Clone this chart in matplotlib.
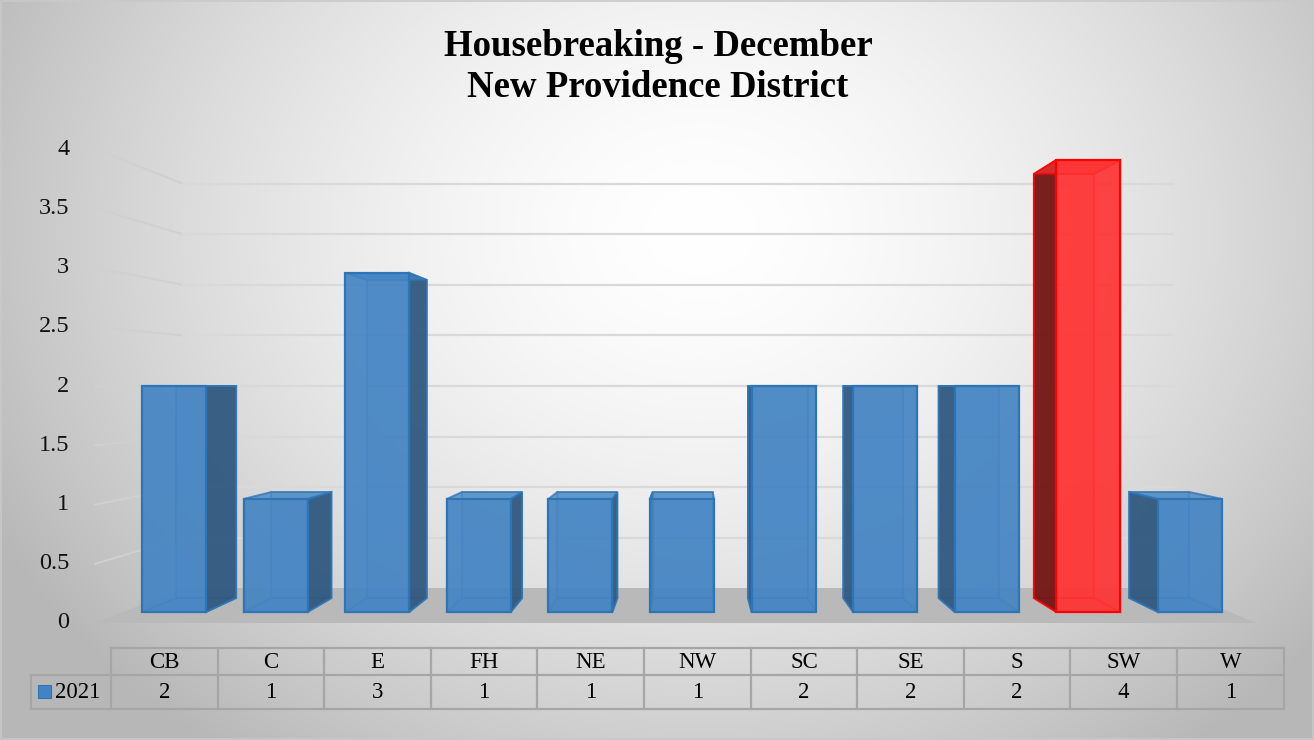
import numpy as np
import matplotlib.pyplot as plt
from matplotlib.patches import Polygon, Rectangle

# -------------------------------------
# data
# -------------------------------------
districts = ['CB', 'C', 'E', 'FH', 'NE', 'NW', 'SC', 'SE', 'S', 'SW', 'W']
counts_2021 = [2, 1, 3, 1, 1, 1, 2, 2, 2, 4, 1]
series_name = '2021'
highlight = 'SW'
y_ticks = [0, 0.5, 1, 1.5, 2, 2.5, 3, 3.5, 4]
title = 'Housebreaking - December\nNew Providence District'

# -------------------------------------
# layout (pixel space, fake perspective)
# -------------------------------------
W, H = 1314, 740
VPX, VPY = 693, 386          # vanishing point
Y0, PX_PER_UNIT = 612, 113   # front plane: value -> y
SHRINK = 0.062               # scale loss per unit of depth
BAR_X0, BAR_STEP, BAR_W = 142, 101.6, 64
FLOOR_L, FLOOR_R = 123, 1230
FLOOR_D0, FLOOR_D1 = -0.785, 1.71

plt.rcParams['font.family'] = ['Liberation Serif', 'DejaVu Serif']


def proj(x, v, d):
    s = 1 - SHRINK * d
    y = Y0 - PX_PER_UNIT * v
    return VPX + (x - VPX) * s, VPY + (y - VPY) * s


fig = plt.figure(figsize=(W / 100, H / 100), dpi=100)
ax = fig.add_axes([0, 0, 1, 1])
ax.set_xlim(0, W)
ax.set_ylim(H, 0)
ax.axis('off')

# background radial gradient
gx, gy = np.meshgrid(np.arange(W), np.arange(H))
r = np.sqrt(((gx - 700) / 760) ** 2 + ((gy - 230) / 620) ** 2)
shade = np.clip(1.0 - 0.26 * r ** 1.6, 0.72, 1.0)
ax.imshow(np.dstack([shade] * 3), extent=(0, W, H, 0), zorder=0)
ax.add_patch(Rectangle((1, 1), W - 2, H - 2, fill=False, ec='#c9c9c9', lw=1.2, zorder=1))

# floor
floor = [proj(FLOOR_L, 0, FLOOR_D0), proj(FLOOR_R, 0, FLOOR_D0),
         proj(FLOOR_R, 0, FLOOR_D1), proj(FLOOR_L, 0, FLOOR_D1)]
ax.add_patch(Polygon(floor, closed=True, fc='#b9b9b9', ec='none', zorder=2))

# gridlines: side wall + back wall
for t in y_ticks[1:]:
    a = proj(FLOOR_L, t, FLOOR_D0)
    b = proj(FLOOR_L, t, FLOOR_D1)
    c = proj(FLOOR_R, t, FLOOR_D1)
    ax.plot([a[0], b[0]], [a[1], b[1]], color='#d0d0d0', lw=1.4, zorder=2)
    ax.plot([b[0], c[0]], [b[1], c[1]], color='#d9d9d9', lw=1.6, zorder=2)

# y tick labels
for t in y_ticks:
    px, py = proj(FLOOR_L, t, FLOOR_D0)
    ax.text(px - 26, py, f'{t:g}', ha='right', va='center', fontsize=17.5, color='#111111', zorder=5)

# bars
for i, (name, v) in enumerate(zip(districts, counts_2021)):
    x0 = BAR_X0 + BAR_STEP * i
    x1 = x0 + BAR_W
    if name == highlight:
        front_c, side_c, edge_c = '#ff3030', '#6e1414', '#ff0000'
    else:
        front_c, side_c, edge_c = '#4283c3', '#30577d', '#2e75b6'

    def face(pts):
        return [proj(x, y, d) for x, y, d in pts]

    back = face([(x0, 0, 1), (x1, 0, 1), (x1, v, 1), (x0, v, 1)])
    left = face([(x0, 0, 0), (x0, 0, 1), (x0, v, 1), (x0, v, 0)])
    right = face([(x1, 0, 0), (x1, 0, 1), (x1, v, 1), (x1, v, 0)])
    top = face([(x0, v, 0), (x1, v, 0), (x1, v, 1), (x0, v, 1)])
    bottom = face([(x0, 0, 0), (x1, 0, 0), (x1, 0, 1), (x0, 0, 1)])
    front = face([(x0, 0, 0), (x1, 0, 0), (x1, v, 0), (x0, v, 0)])

    z = 3
    ax.add_patch(Polygon(back, fc=front_c, alpha=0.35, ec=edge_c, lw=1.4, zorder=z))
    ax.add_patch(Polygon(bottom, fc=front_c, alpha=0.35, ec=edge_c, lw=1.4, zorder=z))
    side = right if x1 < VPX else left
    other = left if x1 < VPX else right
    ax.add_patch(Polygon(other, fc=front_c, alpha=0.2, ec=edge_c, lw=1.4, zorder=z))
    ax.add_patch(Polygon(side, fc=side_c, alpha=0.92, ec=edge_c, lw=1.4, zorder=z + 0.01))
    ax.add_patch(Polygon(top, fc=front_c, alpha=0.7, ec=edge_c, lw=1.4, zorder=z + 0.01))
    ax.add_patch(Polygon(front, fc=front_c, alpha=0.88, ec='none', zorder=z + 0.02))
    ax.add_patch(Polygon(front, fill=False, ec=edge_c, lw=1.6, zorder=z + 0.03))

# title
ax.text(658, 67, title, ha='center', va='center', fontsize=26.5, fontweight='bold',
        linespacing=1.25, color='#000000', zorder=6)

# data table
TAB_L, COL_W = 111, 106.6
ROW_TOP, ROW_MID, ROW_BOT = 648, 675, 709
LEG_L = 31
grid_c = '#a6a6a6'
n = len(districts)
tab_r = TAB_L + COL_W * n
ax.plot([TAB_L, tab_r], [ROW_TOP, ROW_TOP], color=grid_c, lw=1.6, zorder=6)
ax.plot([LEG_L, tab_r], [ROW_MID, ROW_MID], color=grid_c, lw=1.6, zorder=6)
ax.plot([LEG_L, tab_r], [ROW_BOT, ROW_BOT], color=grid_c, lw=1.6, zorder=6)
ax.plot([LEG_L, LEG_L], [ROW_MID, ROW_BOT], color=grid_c, lw=1.6, zorder=6)
for k in range(n + 1):
    xk = TAB_L + COL_W * k
    ax.plot([xk, xk], [ROW_TOP, ROW_BOT], color=grid_c, lw=1.6, zorder=6)
for k, (name, v) in enumerate(zip(districts, counts_2021)):
    xc = TAB_L + COL_W * (k + 0.5)
    ax.text(xc, (ROW_TOP + ROW_MID) / 2 + 1, name, ha='center', va='center', fontsize=16.5, zorder=7)
    ax.text(xc, (ROW_MID + ROW_BOT) / 2 + 1, str(v), ha='center', va='center', fontsize=16.5, zorder=7)
ax.add_patch(Rectangle((38, 685), 13, 13, fc='#4283c3', ec='#2e75b6', lw=0.8, zorder=7))
ax.text(55, (ROW_MID + ROW_BOT) / 2 + 1, series_name, ha='left', va='center', fontsize=16.5, zorder=7)

fig.savefig('out.png', dpi=100)
